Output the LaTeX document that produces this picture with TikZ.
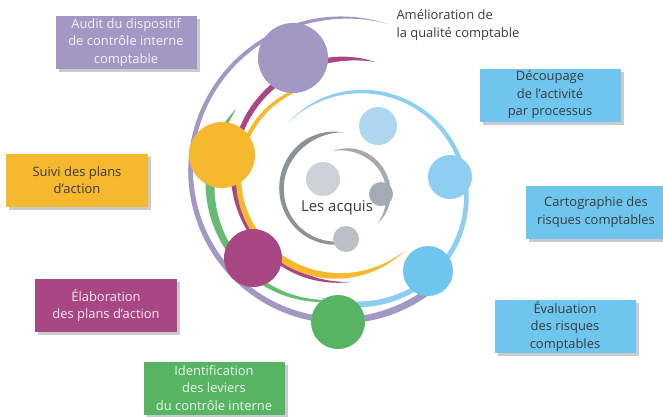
\documentclass[tikz,border=0pt]{standalone}
\usepackage{fontspec}
\setmainfont{Open Sans}
\usetikzlibrary{shadows}

\definecolor{lavande}{HTML}{A397C4}
\definecolor{jaune}{HTML}{F5B82E}
\definecolor{prune}{HTML}{A84784}
\definecolor{vert}{HTML}{57B463}
\definecolor{bleu}{HTML}{6EC6EE}
\definecolor{bleuclair}{HTML}{8ECEF0}
\definecolor{bleupale}{HTML}{AED7EF}
\definecolor{grisfonce}{HTML}{8B929A}
\definecolor{gris}{HTML}{A6ABB3}
\definecolor{grismoyen}{HTML}{BBBFC6}
\definecolor{grisclair}{HTML}{CDD1D8}
\definecolor{ombre}{HTML}{C9CBD1}
\definecolor{texte}{HTML}{3A3A3C}

\tikzset{
    etape/.style={minimum width=141bp, minimum height=53bp, inner sep=0pt,
        align=center, font=\fontsize{13}{17.5}\selectfont,
        drop shadow={shadow xshift=3bp, shadow yshift=-3bp, fill=ombre, opacity=1}},
    clair/.style={etape, fill=#1, text=white!88!#1},
    sombre/.style={etape, fill=#1, text=texte},
    legende/.style={text=texte, font=\fontsize{13}{17.5}\selectfont},
}

% tapered arc: [options]{r start}{r end}{angle start}{angle end}{w start}{w end}{taper start}{taper end}
\newcommand{\swoosh}[9][]{%
    \fill[#1, declare function={%
            sf(\t)=((\t)-(#4))/((#5)-(#4));
            rf(\t)=#2+(#3-#2)*sf(\t);
            wf(\t)=(#6+(#7-#6)*sf(\t))*sin(90*min(1,sf(\t)/#8))*sin(90*min(1,(1-sf(\t))/#9))/2;}]
        plot[domain=#4:#5, samples=120, variable=\t]
            ({(rf(\t)+wf(\t))*cos(\t)}, {(rf(\t)+wf(\t))*sin(\t)})
        -- plot[domain=#5:#4, samples=120, variable=\t]
            ({(rf(\t)-wf(\t))*cos(\t)}, {(rf(\t)-wf(\t))*sin(\t)})
        -- cycle;}

\begin{document}
\begin{tikzpicture}[x=1bp, y=-1bp]
            \useasboundingbox (0,0) rectangle (663,416);
            % arcs
            \swoosh[fill=lavande, shift={(342,172)}]{147}{155}{-310}{-73}{7}{3}{0.001}{0.15}
            \swoosh[fill=prune, shift={(345,175)}]{107}{117}{-274}{-75}{4}{6}{0.2}{0.15}
            \swoosh[fill=jaune, shift={(335,175)}]{103}{93}{-313}{-112}{9}{3}{0.4}{0.001}
            \swoosh[fill=vert!90!white, shift={(330,190)}]{111}{124}{-268}{-139}{2}{12}{0.001}{0.3}
            \swoosh[fill=bleuclair, shift={(360,195)}]{102}{110}{-135}{112}{3}{6}{0.2}{0.1}
            \swoosh[fill=grisfonce, shift={(337,190)}]{53}{58}{-275}{-84}{3}{6}{0.001}{0.3}
            \swoosh[fill=gris, shift={(343,192)}]{42}{47}{-104}{43}{4.5}{4.5}{0.35}{0.3}
            % circles
            \fill[lavande] (293,58) circle (35bp);
            \fill[jaune] (222,155) circle (33bp);
            \fill[prune] (253,258) circle (29bp);
            \fill[vert] (338,322) circle (27bp);
            \fill[bleu] (428,271) circle (25bp);
            \fill[bleuclair] (450,177) circle (22bp);
            \fill[bleupale] (378,126) circle (19bp);
            \fill[grisclair] (323,179) circle (17bp);
            \fill[gris] (381,194) circle (12bp);
            \fill[grismoyen] (346,239) circle (13bp);
            % labels
            \node[legende, anchor=west, align=left] (amelioration) at (393,25) {Amélioration de\\la qualité comptable};
            \node[legende, font=\fontsize{15}{18}\selectfont] (acquis) at (337,208) {Les acquis};
            \node[clair=lavande] (audit) at (126,42.5) {Audit du dispositif\\de contrôle interne\\comptable};
            \node[sombre=jaune] (suivi) at (77,180) {Suivi des plans\\d’action};
            \node[clair=prune] (elaboration) at (106,305.5) {Élaboration\\des plans d’action};
            \node[clair=vert] (identification) at (214,388) {Identification\\des leviers\\du contrôle interne};
            \node[sombre=bleu] (decoupage) at (550,95) {Découpage\\de l’activité\\par processus};
            \node[sombre=bleu] (cartographie) at (596,212) {Cartographie des\\risques comptables};
            \node[sombre=bleu] (evaluation) at (565,326.5) {Évaluation\\des risques\\comptables};
        \end{tikzpicture}
\end{document}
